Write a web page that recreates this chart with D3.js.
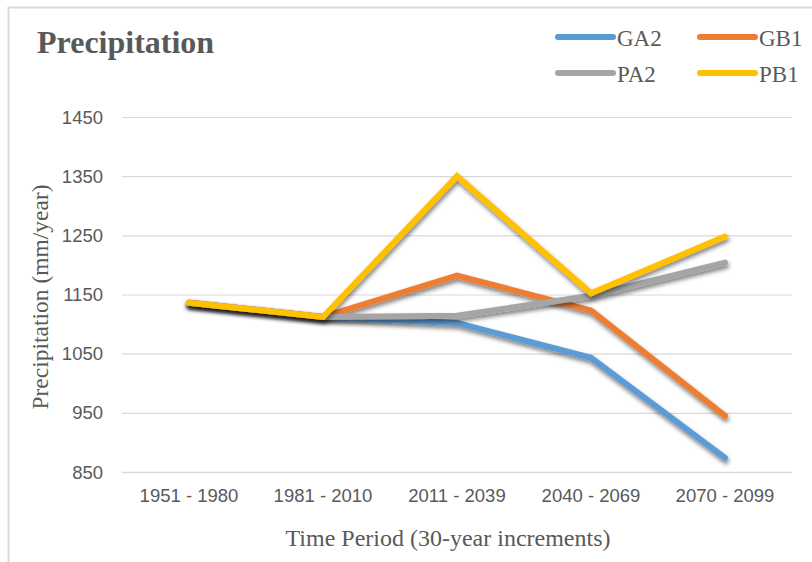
<!DOCTYPE html>
<html>
<head>
<meta charset="utf-8">
<script src="https://cdn.jsdelivr.net/npm/d3@7"></script>
<style>
  body { margin: 0; background: #fff; }
  svg { display: block; }
</style>
</head>
<body>
<div id="chart-holder"></div>
<script>
let width = 812;
let height = 562;

// data
let periods = ["1951 - 1980", "1981 - 2010", "2011 - 2039", "2040 - 2069", "2070 - 2099"];
let yTicks = [850, 950, 1050, 1150, 1250, 1350, 1450];
let seriesNames = ["GA2", "GB1", "PA2", "PB1"];
let seriesColors = ["#5B9BD5", "#ED7D31", "#A5A5A5", "#FFC000"];
let ga2 = [1136, 1112, 1102, 1043, 874];
let gb1 = [1136, 1112, 1182, 1123, 945];
let pa2 = [1136, 1112, 1114, 1148, 1204];
let pb1 = [1136, 1112, 1350, 1152, 1248];

let grey = "#595959";
let serif = "'Liberation Serif', 'Times New Roman', serif";
let sans = "'Liberation Sans', Arial, sans-serif";

let svg = d3.select("#chart-holder")
  .append("svg")
  .attr("width", width)
  .attr("height", height);

// shadow under each line
let defs = svg.append("defs");
defs.append("filter")
  .attr("id", "shadow")
  .attr("x", "-10%").attr("y", "-20%")
  .attr("width", "120%").attr("height", "140%")
  .append("feDropShadow")
  .attr("dx", 1).attr("dy", 3)
  .attr("stdDeviation", 2)
  .attr("flood-color", "#000")
  .attr("flood-opacity", 0.5);

// chart border
svg.append("rect")
  .attr("x", 8.5).attr("y", 7.5)
  .attr("width", 820).attr("height", 570)
  .attr("fill", "none")
  .attr("stroke", "#d9d9d9")
  .attr("stroke-width", 2);

let x = d3.scaleBand()
  .domain(periods)
  .range([122, 792]);

let y = d3.scaleLinear()
  .domain([850, 1450])
  .range([472, 117]);

// gridlines
svg.append("g")
  .selectAll("line")
  .data(yTicks)
  .enter().append("line")
    .attr("x1", x.range()[0])
    .attr("x2", x.range()[1])
    .attr("y1", d => y(d) + 0.5)
    .attr("y2", d => y(d) + 0.5)
    .attr("stroke", "#d9d9d9")
    .attr("stroke-width", d => d == 850 ? 1.5 : 1.2);

// y tick labels
svg.append("g")
  .selectAll("text")
  .data(yTicks)
  .enter().append("text")
    .attr("x", 103)
    .attr("y", d => y(d))
    .attr("dy", "0.36em")
    .attr("text-anchor", "end")
    .attr("font-family", sans)
    .attr("font-size", 18.5)
    .attr("fill", grey)
    .text(d => d);

// x tick labels
svg.append("g")
  .selectAll("text")
  .data(periods)
  .enter().append("text")
    .attr("x", d => x(d) + x.bandwidth() / 2)
    .attr("y", 502)
    .attr("text-anchor", "middle")
    .attr("font-family", sans)
    .attr("font-size", 18.5)
    .attr("fill", grey)
    .text(d => d);

// lines
let allSeries = [ga2, gb1, pa2, pb1];
let line = d3.line()
  .x((d, i) => x(periods[i]) + x.bandwidth() / 2)
  .y(d => y(d));

svg.append("g")
  .selectAll("path")
  .data(allSeries)
  .enter().append("path")
    .attr("d", d => line(d))
    .attr("fill", "none")
    .attr("stroke", (d, i) => seriesColors[i])
    .attr("stroke-width", 6)
    .attr("stroke-linecap", "round")
    .attr("stroke-linejoin", "miter")
    .attr("filter", "url(#shadow)");

// title
svg.append("text")
  .attr("x", 37).attr("y", 53)
  .attr("font-family", serif)
  .attr("font-weight", "bold")
  .attr("font-size", 32)
  .attr("fill", grey)
  .text("Precipitation");

// axis titles
svg.append("text")
  .attr("transform", "translate(48,297) rotate(-90)")
  .attr("text-anchor", "middle")
  .attr("font-family", serif)
  .attr("font-size", 23.5)
  .attr("fill", grey)
  .text("Precipitation (mm/year)");

svg.append("text")
  .attr("x", 448).attr("y", 546)
  .attr("text-anchor", "middle")
  .attr("font-family", serif)
  .attr("font-size", 24)
  .attr("fill", grey)
  .text("Time Period (30-year increments)");

// legend, two by two
let legend = svg.append("g")
  .selectAll("g")
  .data(seriesNames)
  .enter().append("g")
    .attr("transform", (d, i) => "translate(" + (558 + (i % 2) * 142) + "," + (37 + Math.floor(i / 2) * 36) + ")");

legend.append("line")
  .attr("x1", 0).attr("x2", 55)
  .attr("y1", 0).attr("y2", 0)
  .attr("stroke", (d, i) => seriesColors[i])
  .attr("stroke-width", 6)
  .attr("stroke-linecap", "round");

legend.append("text")
  .attr("x", 59).attr("y", 9)
  .attr("font-family", serif)
  .attr("font-size", 23)
  .attr("fill", grey)
  .text(d => d);
</script>
</body>
</html>
